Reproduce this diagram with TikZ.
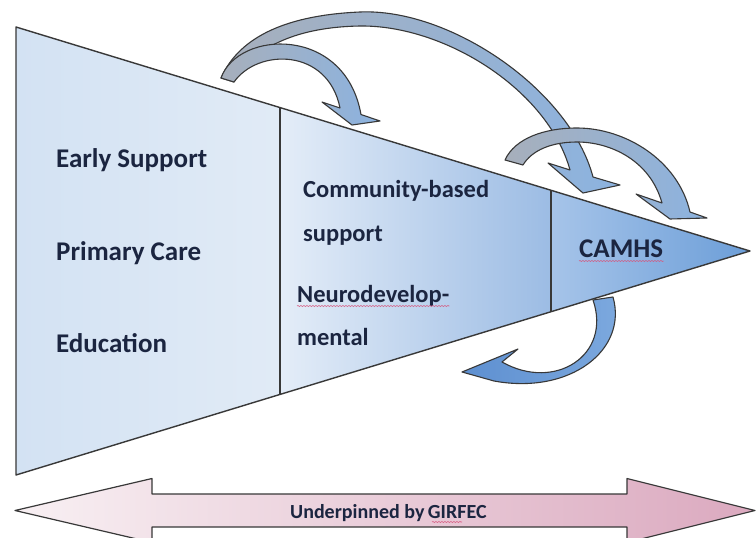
\documentclass[tikz,border=0pt]{standalone}
\usepackage{fontspec}
\setmainfont{Carlito}
\usetikzlibrary{decorations.pathmorphing}

% palette
\definecolor{txt}{HTML}{1B2540}
\definecolor{edge}{HTML}{383838}
\definecolor{secAa}{HTML}{D3E2F3}
\definecolor{secAb}{HTML}{E1EBF6}
\definecolor{secBa}{HTML}{E4EDF8}
\definecolor{secBb}{HTML}{9CBCE4}
\definecolor{secCa}{HTML}{A6C4E9}
\definecolor{secCb}{HTML}{6C9ED8}
\definecolor{tailgray}{HTML}{A7AFBB}
\definecolor{paleshaft}{HTML}{E9EEF4}
\definecolor{headblue}{HTML}{8CB3E0}
\definecolor{loopblueA}{HTML}{5D8FD0}
\definecolor{loopblueB}{HTML}{7EAADF}
\definecolor{pinkA}{HTML}{F8F0F3}
\definecolor{pinkB}{HTML}{DBA9BF}
\definecolor{spell}{HTML}{D6567D}

\begin{document}
\begin{tikzpicture}[x=1pt,y=-1pt,
  lbl/.style={anchor=base west, inner sep=0pt, text=txt,
              font=\fontsize{27}{32}\selectfont\bfseries},
  midlbl/.style={lbl, font=\fontsize{24.5}{29}\selectfont\bfseries},
  smalllbl/.style={anchor=base west, inner sep=0pt, text=txt,
              font=\fontsize{20}{24}\selectfont\bfseries},
  outline/.style={draw=edge, line width=1.4pt, line join=round},
  bendarrow/.style={draw=edge, line width=1.1pt, line join=round},
  squiggle/.style={draw=spell, line width=0.6pt, decorate,
              decoration={snake, amplitude=0.5pt, segment length=3pt}}]
\useasboundingbox (0,0) rectangle (756,538);
\clip (0,0) rectangle (756,538);
\fill[white] (0,0) rectangle (756,538);

% funnel corners and section dividers
\coordinate (tl) at (16,27);
\coordinate (bl) at (16,475);
\coordinate (apex) at (750,251);
\coordinate (d1t) at (280,107.6);
\coordinate (d1b) at (280,394.4);
\coordinate (d2t) at (551,190.3);
\coordinate (d2b) at (551,311.7);

% shaded sections
\shade[left color=secAa, right color=secAb] (tl) -- (d1t) -- (d1b) -- (bl) -- cycle;
\shade[left color=secBa, right color=secBb] (d1t) -- (d2t) -- (d2b) -- (d1b) -- cycle;
\shade[left color=secCa, right color=secCb] (d2t) -- (apex) -- (d2b) -- cycle;
\draw[outline] (tl) -- (apex) -- (bl) -- cycle;
\draw[outline, line width=1.1pt] (d1t) -- (d1b);
\draw[outline, line width=1.1pt] (d2t) -- (d2b);

% labels
\node[lbl] (early) at (56,167) {Early Support};
\node[lbl] (primary) at (56,260) {Primary Care};
\node[lbl] (educ) at (56,352) {Education};
\node[midlbl] (community) at (303,197) {Community-based};
\node[midlbl] (support) at (303,241) {support};
\node[midlbl] (neuro) at (297,302) {Neurodevelop-};
\node[midlbl] (mental) at (297,345) {mental};
\node[lbl] (camhs) at (579,257) {CAMHS};
\draw[squiggle] ([yshift=-4pt]neuro.base west) -- ([yshift=-4pt]neuro.base east);
\draw[squiggle] ([yshift=-4pt]camhs.base west) -- ([yshift=-4pt]camhs.base east);

% long curved arrow over to the CAMHS edge
\shadedraw[bendarrow, left color=tailgray, middle color=paleshaft, right color=headblue]
  (221,78) .. controls (240,35) and (290,15) .. (360,12)
  .. controls (450,8) and (570,90) .. (593,177)
  -- (620,185) -- (583,193) -- (548,163) -- (570,170)
  .. controls (548,90) and (445,25) .. (360,26)
  .. controls (300,27) and (255,45) .. (234,82) -- cycle;

% short curved arrow into the community section
\shadedraw[bendarrow, left color=tailgray, right color=headblue]
  (221,78) .. controls (238,30) and (345,25) .. (361,114.5)
  -- (380,121) -- (352,125) -- (322,102) -- (340,108)
  .. controls (328,48) and (258,48) .. (234,82) -- cycle;

% curved arrow from the community section into CAMHS
\shadedraw[bendarrow, left color=tailgray, right color=headblue]
  (505,160) .. controls (515,138) and (545,128) .. (577,128)
  .. controls (625,128) and (678,160) .. (690,212)
  -- (707,218) -- (670,219) -- (636,194) -- (662,203)
  .. controls (650,160) and (610,142) .. (577,142)
  .. controls (552,142) and (532,150) .. (523,165) -- cycle;

% return arrow below the funnel
\shadedraw[bendarrow, left color=loopblueA, right color=loopblueB]
  (613,297) .. controls (628,350) and (570,395) .. (494,381)
  -- (462,372) -- (518,349) -- (502,362)
  .. controls (555,392) and (612,355) .. (593,300) -- cycle;

% double-headed base arrow
\shadedraw[outline, line width=1.2pt, left color=pinkA, right color=pinkB]
  (15,510.5) -- (152,478.5) -- (152,494) -- (627,494) -- (627,478.5)
  -- (755,510.5) -- (627,542.5) -- (627,527) -- (152,527) -- (152,542.5) -- cycle;
\node[smalllbl] (base) at (290,518) {Underpinned by\kern-1pt\ GIRFEC};
\draw[squiggle] (432,522) -- (462,522);
\end{tikzpicture}
\end{document}
